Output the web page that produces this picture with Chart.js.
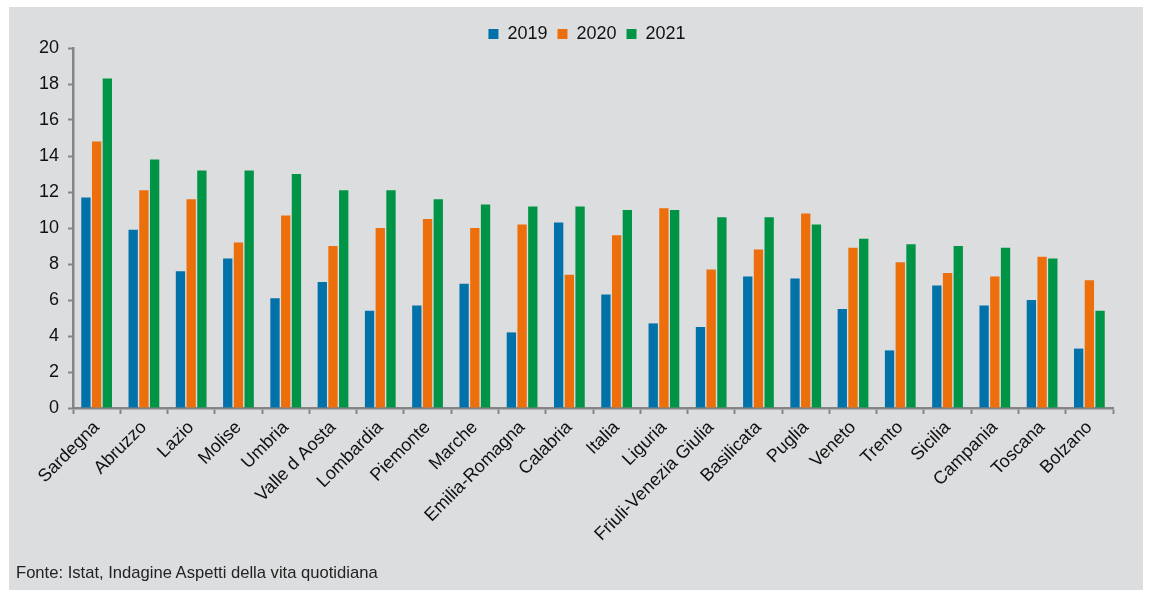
<!DOCTYPE html>
<html>
<head>
<meta charset="utf-8">
<script src="https://cdn.jsdelivr.net/npm/chart.js@4"></script>
<style>
  body { margin: 0; background: #ffffff; }
  #pannello { position: absolute; left: 9px; top: 7px; width: 1134px; height: 583px; background: #dcdddf; }
  #pannello canvas { position: absolute; left: 0; top: 0; }
  #fonte { position: absolute; left: 7px; top: 556px; font-family: 'Liberation Sans Narrow', 'Arial Narrow', 'Liberation Sans', sans-serif; font-size: 16.6px; color: #222; }
</style>
</head>
<body>
<div id="pannello">
  <canvas id="myChart" width="1134" height="583"></canvas>
  <div id="fonte">Fonte: Istat, Indagine Aspetti della vita quotidiana</div>
</div>
<script>
// Regioni in ordine come nel grafico
const regioni = ['Sardegna', 'Abruzzo', 'Lazio', 'Molise', 'Umbria', 'Valle d Aosta', 'Lombardia', 'Piemonte',
  'Marche', 'Emilia-Romagna', 'Calabria', 'Italia', 'Liguria', 'Friuli-Venezia Giulia', 'Basilicata', 'Puglia',
  'Veneto', 'Trento', 'Sicilia', 'Campania', 'Toscana', 'Bolzano'];

const valori2019 = [11.7, 9.9, 7.6, 8.3, 6.1, 7.0, 5.4, 5.7, 6.9, 4.2, 10.3, 6.3, 4.7, 4.5, 7.3, 7.2, 5.5, 3.2, 6.8, 5.7, 6.0, 3.3];
const valori2020 = [14.8, 12.1, 11.6, 9.2, 10.7, 9.0, 10.0, 10.5, 10.0, 10.2, 7.4, 9.6, 11.1, 7.7, 8.8, 10.8, 8.9, 8.1, 7.5, 7.3, 8.4, 7.1];
const valori2021 = [18.3, 13.8, 13.2, 13.2, 13.0, 12.1, 12.1, 11.6, 11.3, 11.2, 11.2, 11.0, 11.0, 10.6, 10.6, 10.2, 9.4, 9.1, 9.0, 8.9, 8.3, 5.4];

const anni = ['2019', '2020', '2021'];
const colori = ['#0072a9', '#ec6f0b', '#009447'];

const ctx = document.getElementById('myChart').getContext('2d');
const grigioAsse = '#858585';
const fontBase = "'Liberation Sans', Arial, sans-serif";

// sposta la legenda (più in basso e a destra) senza toccare l'area del grafico
const spostaLegenda = {
    id: 'spostaLegenda',
    afterLayout(chart) {
        if (chart.legend) {
            chart.legend.top += 5;
            chart.legend.bottom += 5;
            chart.legend.left += 26;
            chart.legend.right += 26;
        }
    }
};

const myChart = new Chart(ctx, {
    type: 'bar',
    data: {
        labels: regioni,
        datasets: [valori2019, valori2020, valori2021].map((dati, i) => ({
            label: anni[i],
            data: dati,
            backgroundColor: colori[i],
            borderWidth: 0,
            barPercentage: 0.87,
            categoryPercentage: 0.68
        }))
    },
    options: {
        responsive: false,
        animation: false,
        layout: { padding: { top: 3, right: 30, left: 0, bottom: 0 } },
        plugins: {
            legend: {
                display: true,
                position: 'top',
                labels: {
                    boxWidth: 10,
                    boxHeight: 10,
                    color: '#111',
                    padding: 10,
                    font: { family: fontBase, size: 18 }
                }
            },
            tooltip: { enabled: false }
        },
        scales: {
            x: {
                grid: { display: true, drawOnChartArea: false, drawTicks: true, tickLength: 6, tickColor: grigioAsse, tickWidth: 2, offset: true },
                border: { display: true, color: grigioAsse, width: 2.5 },
                ticks: {
                    color: '#111',
                    maxRotation: 45,
                    minRotation: 45,
                    autoSkip: false,
                    padding: 3,
                    font: { family: fontBase, size: 18 }
                },
                afterFit: function(scale) { scale.height = 182; }
            },
            y: {
                min: 0,
                max: 20,
                grid: { display: true, drawOnChartArea: false, drawTicks: true, tickLength: 5, tickColor: grigioAsse, tickWidth: 2 },
                border: { display: true, color: grigioAsse, width: 2.5 },
                ticks: {
                    stepSize: 2,
                    color: '#111',
                    padding: 9,
                    font: { family: fontBase, size: 18 }
                },
                afterFit: function(scale) { scale.width = 64; }
            }
        }
    },
    plugins: [spostaLegenda]
});
</script>
</body>
</html>
